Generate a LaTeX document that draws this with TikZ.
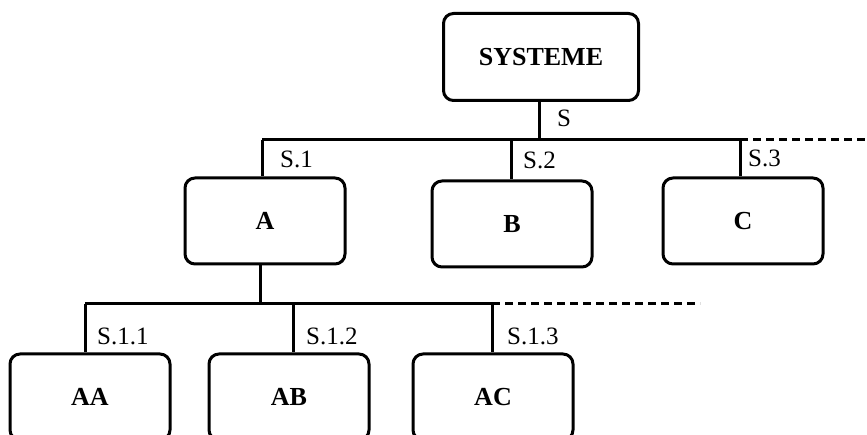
\documentclass[tikz,border=0pt]{standalone}
\usepackage{fontspec}
\setmainfont{Liberation Serif}
\usetikzlibrary{positioning}

\tikzset{
  box/.style={draw, line width=3pt, rounded corners=10pt, inner sep=0pt,
    minimum width=160pt, minimum height=86pt,
    font=\fontsize{26}{30}\selectfont\bfseries},
  lbl/.style={anchor=west, inner sep=0pt, font=\fontsize{25}{29}\selectfont},
  link/.style={line width=3pt},
  more/.style={line width=3pt, dash pattern=on 8pt off 5pt}
}

\begin{document}
\begin{tikzpicture}[x=1pt, y=-1pt]
  \useasboundingbox (0,0) rectangle (867,435);
  \clip (0,0) rectangle (867,435);

  % level 0
  \node[box, minimum width=195pt, minimum height=87pt] (sys) at (541,57) {SYSTEME};

  % level 1
  \coordinate (s) at (539,140);
  \coordinate (s1) at (262,140);
  \coordinate (s2) at (511,140);
  \coordinate (s3) at (740,140);
  \coordinate (send) at (867,140);
  \node[box] (A) at (265,221) {A};
  \node[box] (B) at (512,224) {B};
  \node[box] (C) at (743,221) {C};

  \draw[link] (s |- sys.south) -- (s);
  \draw[link] (s1) -- (s3);
  \draw[more] (s3) -- (send);
  \foreach \j/\n in {s1/A, s2/B, s3/C}
    \draw[link] (\j) -- (\j |- \n.north);

  \node[lbl] (ls) at (557,118) {S};
  \node[lbl] (ls1) at (280,159) {S.1};
  \node[lbl] (ls2) at (523,160) {S.2};
  \node[lbl] (ls3) at (748,158) {S.3};

  % level 2
  \coordinate (a) at (260,304);
  \coordinate (a1) at (85,304);
  \coordinate (a2) at (293,304);
  \coordinate (a3) at (492,304);
  \coordinate (aend) at (700,304);
  \node[box] (AA) at (90,397) {AA};
  \node[box] (AB) at (289,397) {AB};
  \node[box] (AC) at (493,397) {AC};

  \draw[link] (a |- A.south) -- (a);
  \draw[link] (a1) -- (a3);
  \draw[more] (a3) -- (aend);
  \foreach \j/\n in {a1/AA, a2/AB, a3/AC}
    \draw[link] (\j) -- (\j |- \n.north);

  \node[lbl] (la1) at (97,336) {S.1.1};
  \node[lbl] (la2) at (306,336) {S.1.2};
  \node[lbl] (la3) at (507,336) {S.1.3};
\end{tikzpicture}
\end{document}
